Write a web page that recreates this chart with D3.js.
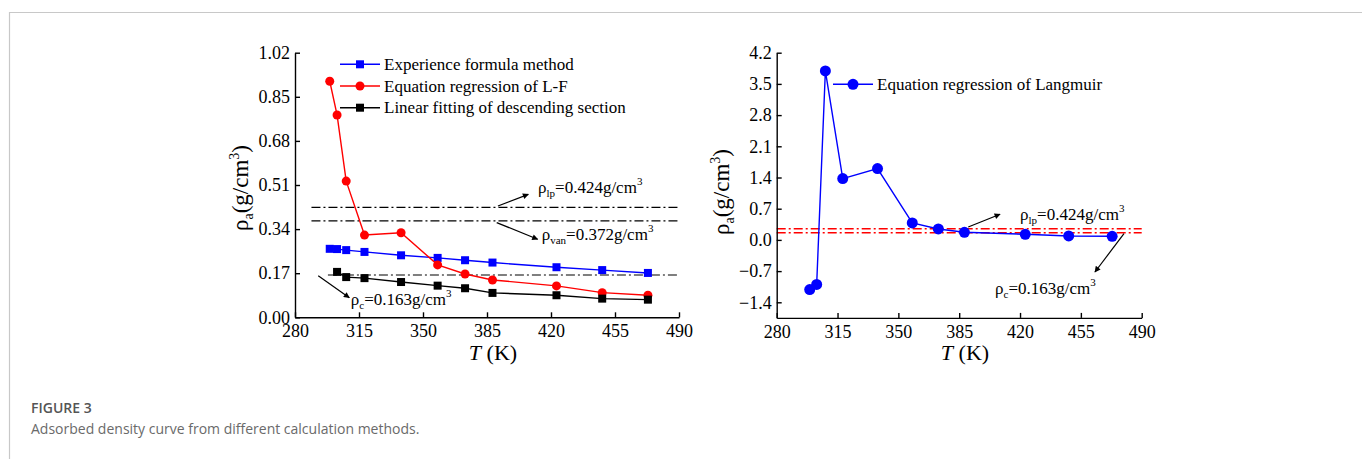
<!DOCTYPE html>
<html>
<head>
<meta charset="utf-8">
<script src="https://cdn.jsdelivr.net/npm/d3@7"></script>
<style>
  body { margin: 0; background: #fff; }
  svg { display: block; }
</style>
</head>
<body>
<div id="chart"></div>
<script>
// temperatures (K)
var temps = [299, 303, 308, 318, 338, 358, 373, 388, 423, 448, 473];
var tempsLinear = [303, 308, 318, 338, 358, 373, 388, 423, 448, 473];

// left panel series (g/cm3)
var experienceVals = [0.264, 0.263, 0.259, 0.252, 0.239, 0.229, 0.220, 0.211, 0.193, 0.182, 0.171];
var lfVals = [0.910, 0.780, 0.525, 0.317, 0.326, 0.202, 0.167, 0.144, 0.121, 0.095, 0.085];
var linearVals = [0.175, 0.155, 0.151, 0.136, 0.122, 0.112, 0.094, 0.085, 0.072, 0.068];

// right panel series
var langmuirVals = [-1.115, -0.998, 3.79, 1.375, 1.60, 0.381, 0.245, 0.171, 0.126, 0.088, 0.081];

var xTicks = [280, 315, 350, 385, 420, 455, 490];
var yTicksLeft = [0.00, 0.17, 0.34, 0.51, 0.68, 0.85, 1.02];
var yTicksRight = [-1.4, -0.7, 0.0, 0.7, 1.4, 2.1, 2.8, 3.5, 4.2];

// reference lines: [value, start T]
var refLeft = [[0.424, 289], [0.372, 289], [0.163, 298]];
var refRight = [0.25, 0.163];

var width = 1362, height = 459;
var svg = d3.select("#chart").append("svg")
    .attr("width", width)
    .attr("height", height);

var defs = svg.append("defs");
defs.append("marker")
    .attr("id", "arrow")
    .attr("viewBox", "0 0 10 10")
    .attr("refX", 9).attr("refY", 5)
    .attr("markerWidth", 10).attr("markerHeight", 6)
    .attr("markerUnits", "userSpaceOnUse")
    .attr("orient", "auto")
    .append("path")
    .attr("d", "M0,0 L10,5 L0,10 z")
    .attr("fill", "#000");

// card border
svg.append("path")
    .attr("d", "M9.5," + height + " L9.5,12.5 L" + width + ",12.5")
    .attr("fill", "none")
    .attr("stroke", "#c8c8c8")
    .attr("stroke-width", 1.2);

var serif = "'Liberation Serif', 'Times New Roman', serif";

function drawAxes(g, x, y, yTicks, yFmt) {
    var xAxis = d3.axisBottom(x).tickValues(xTicks)
        .tickSizeInner(-5).tickSizeOuter(0).tickPadding(7);
    var yAxis = d3.axisLeft(y).tickValues(yTicks).tickFormat(yFmt)
        .tickSizeInner(-5).tickSizeOuter(0).tickPadding(5);
    var bottom = y.range()[0];
    var gx = g.append("g").attr("transform", "translate(0," + bottom + ")").call(xAxis);
    var gy = g.append("g").attr("transform", "translate(" + x.range()[0] + ",0)").call(yAxis);
    [gx, gy].forEach(function (a) {
        a.attr("font-family", serif).attr("font-size", 18);
        a.selectAll("path, line").attr("stroke", "#000").attr("stroke-width", 1.4);
        a.selectAll("text").attr("font-family", serif).attr("font-size", 18).attr("fill", "#000");
    });
}

function yLabel(g, cx, cy) {
    var t = g.append("text")
        .attr("transform", "translate(" + cx + "," + cy + ") rotate(-90)")
        .attr("text-anchor", "middle")
        .attr("font-family", serif)
        .attr("font-size", 23);
    t.append("tspan").text("ρ");
    t.append("tspan").attr("font-size", 14).attr("dy", 5).text("a");
    t.append("tspan").attr("dy", -5).text("(g/cm");
    t.append("tspan").attr("font-size", 14).attr("dy", -9).text("3");
    t.append("tspan").attr("dy", 9).text(")");
}

function xLabel(g, cx, by) {
    var t = g.append("text")
        .attr("x", cx).attr("y", by)
        .attr("text-anchor", "middle")
        .attr("font-family", serif)
        .attr("font-size", 22);
    t.append("tspan").attr("font-style", "italic").text("T");
    t.append("tspan").text(" (K)");
}

function rhoText(g, px, py, sub, val) {
    var t = g.append("text")
        .attr("x", px).attr("y", py)
        .attr("font-family", serif)
        .attr("font-size", 17);
    t.append("tspan").text("ρ");
    t.append("tspan").attr("font-size", 11).attr("dy", 4).text(sub);
    t.append("tspan").attr("dy", -4).text("=" + val + "g/cm");
    t.append("tspan").attr("font-size", 11).attr("dy", -8).text("3");
}

function arrow(g, x1, y1, x2, y2) {
    g.append("line")
        .attr("x1", x1).attr("y1", y1).attr("x2", x2).attr("y2", y2)
        .attr("stroke", "#000").attr("stroke-width", 1.2)
        .attr("marker-end", "url(#arrow)");
}

function series(g, x, y, xs, vs, color, shape) {
    var pts = xs.map(function (d, i) { return [d, vs[i]]; });
    g.append("path")
        .datum(pts)
        .attr("fill", "none")
        .attr("stroke", color)
        .attr("stroke-width", 1.4)
        .attr("d", d3.line().x(function (d) { return x(d[0]); }).y(function (d) { return y(d[1]); }));
    drawMarkers(g, pts.map(function (d) { return [x(d[0]), y(d[1])]; }), color, shape);
}

function drawMarkers(g, pts, color, shape) {
    if (shape === "square") {
        g.selectAll(null).data(pts).enter().append("rect")
            .attr("x", function (d) { return d[0] - 4; })
            .attr("y", function (d) { return d[1] - 4; })
            .attr("width", 8).attr("height", 8)
            .attr("fill", color);
    } else {
        var r = shape === "bigcircle" ? 5.5 : 4.5;
        g.selectAll(null).data(pts).enter().append("circle")
            .attr("cx", function (d) { return d[0]; })
            .attr("cy", function (d) { return d[1]; })
            .attr("r", r)
            .attr("fill", color);
    }
}

function legendRow(g, x0, yy, color, shape, label) {
    g.append("line")
        .attr("x1", x0).attr("x2", x0 + 40).attr("y1", yy).attr("y2", yy)
        .attr("stroke", color).attr("stroke-width", 1.4);
    drawMarkers(g, [[x0 + 20, yy]], color, shape);
    g.append("text")
        .attr("x", x0 + 44).attr("y", yy + 5.5)
        .attr("font-family", serif)
        .attr("font-size", 17)
        .text(label);
}

// ---------- left panel ----------
var xL = d3.scaleLinear().domain([280, 490]).range([295, 679]);
var yL = d3.scaleLinear().domain([0, 1.02]).range([317.3, 52.7]);
var gL = svg.append("g");

refLeft.forEach(function (r) {
    gL.append("line")
        .attr("x1", xL(r[1])).attr("x2", xL(490))
        .attr("y1", yL(r[0])).attr("y2", yL(r[0]))
        .attr("stroke", "#000").attr("stroke-width", 1.2)
        .attr("stroke-dasharray", "9,3,2,3");
});

series(gL, xL, yL, temps, experienceVals, "#0000ff", "square");
series(gL, xL, yL, temps, lfVals, "#ff0000", "circle");
series(gL, xL, yL, tempsLinear, linearVals, "#000000", "square");

drawAxes(gL, xL, yL, yTicksLeft, d3.format(".2f"));
yLabel(gL, 248, 188);
xLabel(gL, 493, 360);

arrow(gL, xL(391.0), yL(0.429), xL(407.6), yL(0.474));
rhoText(gL, xL(412.9), yL(0.479), "lp", "0.424");
arrow(gL, xL(390.3), yL(0.365), xL(412.7), yL(0.301));
rhoText(gL, xL(414.9), yL(0.298), "van", "0.372");
arrow(gL, xL(292.7), yL(0.160), xL(309.7), yL(0.0756));
rhoText(gL, xL(310.5), yL(0.047), "c", "0.163");

legendRow(gL, 340, 64.3, "#0000ff", "square", "Experience formula method");
legendRow(gL, 340, 86, "#ff0000", "circle", "Equation regression  of L-F");
legendRow(gL, 340, 107.7, "#000000", "square", "Linear fitting of descending section");

// ---------- right panel ----------
var xR = d3.scaleLinear().domain([280, 490]).range([776.7, 1141.7]);
var yR = d3.scaleLinear().domain([-1.75, 4.2]).range([317.9, 52.7]);
var gR = svg.append("g");

refRight.forEach(function (v) {
    gR.append("line")
        .attr("x1", xR(280)).attr("x2", xR(490))
        .attr("y1", yR(v)).attr("y2", yR(v))
        .attr("stroke", "#ff0000").attr("stroke-width", 1.5)
        .attr("stroke-dasharray", "9,3,2,3");
});

series(gR, xR, yR, temps, langmuirVals, "#0000ff", "bigcircle");

drawAxes(gR, xR, yR, yTicksRight, d3.format(".1f"));
yLabel(gR, 729, 192);
xLabel(gR, 965, 360);

arrow(gR, xR(390.2), yR(0.289), xR(408.5), yR(0.574));
rhoText(gR, xR(420), yR(0.44), "lp", "0.424");
arrow(gR, xR(479.8), yR(0.141), xR(463.1), yR(-0.72));
rhoText(gR, xR(405.6), yR(-1.205), "c", "0.163");

legendRow(gR, 833, 84.3, "#0000ff", "bigcircle", "Equation regression of Langmuir");

// ---------- caption ----------
svg.append("text")
    .attr("x", 31).attr("y", 412.5)
    .attr("font-family", "'Open Sans', 'Noto Sans', sans-serif")
    .attr("font-size", 14)
    .attr("font-weight", 600)
    .attr("fill", "#555")
    .text("FIGURE 3");
svg.append("text")
    .attr("x", 31).attr("y", 434)
    .attr("font-family", "'Open Sans', 'Noto Sans', sans-serif")
    .attr("font-size", 14)
    .attr("fill", "#6a6a6a")
    .text("Adsorbed density curve from different calculation methods.");
</script>
</body>
</html>
